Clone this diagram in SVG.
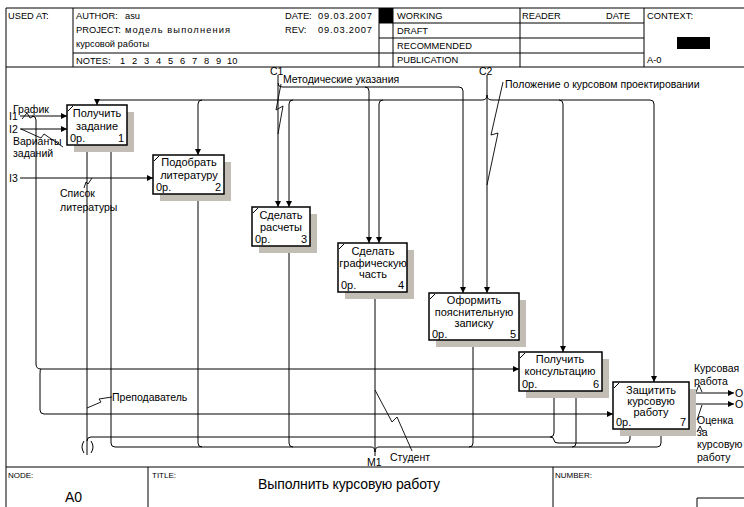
<svg xmlns="http://www.w3.org/2000/svg" width="744" height="507" viewBox="0 0 744 507">
  <defs>
    <marker id="arr" viewBox="0 0 10 10" refX="10" refY="5" markerWidth="7" markerHeight="6" markerUnits="userSpaceOnUse" orient="auto">
      <path d="M0,0 L10,5 L0,10 z" fill="#000"/>
    </marker>
  </defs>
  <style>
    text { font-family: "Liberation Sans", Arial, sans-serif; fill: #000; }
    .hd { font-size: 9.3px; }
    .sm { font-size: 8px; }
    .lbl { font-size: 10.5px; }
    .bx { font-size: 11px; text-anchor: middle; }
    .num { font-size: 11px; }
    .frame { fill: none; stroke: #000; stroke-width: 1; }
    .shadow { fill: #c2beb6; stroke: none; }
    .box { fill: #fff; stroke: #000; stroke-width: 1.5; }
    .tick { stroke: #000; stroke-width: 1; }
    .cn path { fill: none; stroke: #000; stroke-width: 1; }
    .ar { marker-end: url(#arr); }
    .lead { fill: none; stroke: #000; stroke-width: 0.9; }
  </style>

  <rect width="744" height="507" fill="#fff"/>

  <!-- page frame and header grid -->
  <g id="frame" class="frame">
    <path d="M6,8 H744 M6,8 V507 M6,67 H744"/>
    <path d="M73,8 V67 M379,8 V67 M393,8 V67 M520,8 V67 M644,8 V67"/>
    <path d="M73,53 H379 M379,23 H644 M379,38 H644 M379,53 H644"/>
    <path d="M6,467 H744 M148,467 V507 M553,467 V507 M697,507 V498 H744"/>
  </g>
  <rect x="379" y="8" width="14" height="15" fill="#000"/>
  <rect x="677" y="37" width="33" height="12" fill="#000"/>

  <g id="header">
    <text class="hd" x="8" y="19">USED AT:</text>
    <text class="hd" x="76" y="19">AUTHOR:</text>
    <text class="hd" x="125" y="19">asu</text>
    <text class="hd" x="76" y="33">PROJECT:</text>
    <text class="hd" x="125" y="33" textLength="105" lengthAdjust="spacing">модель выполнения</text>
    <text class="hd" x="76" y="47">курсовой работы</text>
    <text class="hd" x="76" y="64">NOTES:</text>
    <text class="hd" y="64"><tspan x="120">1</tspan><tspan x="132">2</tspan><tspan x="144">3</tspan><tspan x="156">4</tspan><tspan x="168">5</tspan><tspan x="180">6</tspan><tspan x="192">7</tspan><tspan x="204">8</tspan><tspan x="216">9</tspan><tspan x="227">10</tspan></text>
    <text class="hd" x="285" y="19">DATE:</text>
    <text class="hd" x="318" y="19" textLength="54" lengthAdjust="spacing">09.03.2007</text>
    <text class="hd" x="285" y="33">REV:</text>
    <text class="hd" x="318" y="33" textLength="54" lengthAdjust="spacing">09.03.2007</text>
    <text class="hd" x="397" y="19">WORKING</text>
    <text class="hd" x="397" y="34">DRAFT</text>
    <text class="hd" x="397" y="49">RECOMMENDED</text>
    <text class="hd" x="397" y="63">PUBLICATION</text>
    <text class="hd" x="522" y="19">READER</text>
    <text class="hd" x="606" y="19">DATE</text>
    <text class="hd" x="647" y="19">CONTEXT:</text>
    <text class="hd" x="647" y="63">A-0</text>
  </g>

  <g id="footer">
    <text class="sm" x="8" y="478">NODE:</text>
    <text x="65" y="502" font-size="14">A0</text>
    <text class="sm" x="152" y="478">TITLE:</text>
    <text x="258" y="489" font-size="14" textLength="182" lengthAdjust="spacing">Выполнить  курсовую работу</text>
    <text class="sm" x="555" y="478">NUMBER:</text>
  </g>

  <!-- connectors -->
  <g id="connectors" class="cn">
    <!-- inputs -->
    <path class="ar" d="M20,116 H67"/>
    <path class="ar" d="M20,129 H67"/>
    <path class="ar" d="M20,178 H153"/>
    <path class="ar" d="M32,116 Q36,116 36,120 V364 Q36,369 41,369 H519"/>
    <path class="ar" d="M41,369 Q40,369 40,374 V410 Q40,414 44,414 H613"/>

    <!-- control C2 -->
    <path class="ar" d="M487,75 V293"/>
    <path d="M487,95 Q487,100 482,100 H97"/>
    <path class="ar" d="M97,100 V105"/>
    <path class="ar" d="M202,100 Q198,100 198,104 V155"/>
    <path class="ar" d="M293,100 Q289,100 289,104 V207"/>
    <path class="ar" d="M383,100 Q379,100 379,104 V243"/>
    <path d="M487,95 Q487,100 492,100 H650"/>
    <path class="ar" d="M559,100 Q563,100 563,104 V352"/>
    <path class="ar" d="M650,100 Q654,100 654,104 V382"/>

    <!-- control C1 -->
    <path class="ar" d="M278,75 V207"/>
    <path class="ar" d="M278,83 Q278,87 282,87 H365 Q369,87 369,91 V243"/>
    <path class="ar" d="M365,87 H459 Q463,87 463,91 V293"/>

    <!-- mechanism: teacher -->
    <path class="ar" d="M87,455 V145"/>
    <path class="ar" d="M87,441 Q87,437 91,437 H550 Q554,437 554,433 V391"/>
    <path class="ar" d="M550,437 Q554,437 554,440 Q554,443 558,443 H626 Q630,443 630,439 V429"/>

    <!-- mechanism: student M1 -->
    <path class="ar" d="M375,456 V292"/>
    <path class="ar" d="M375,452 Q375,447 371,447 H115 Q111,447 111,443 V145"/>
    <path class="ar" d="M202,447 Q198,447 198,443 V194"/>
    <path class="ar" d="M293,447 Q289,447 289,443 V246"/>
    <path class="ar" d="M375,452 Q375,447 379,447 H469 Q473,447 473,443 V340"/>
    <path class="ar" d="M469,447 H657 Q661,447 661,443 V429"/>
    <path class="ar" d="M572,447 Q576,447 576,443 V391"/>

    <!-- outputs -->
    <path class="ar" d="M689,393 H734"/>
    <path class="ar" d="M689,404 H734"/>

    <!-- tunnel mark -->
    <path d="M84,441 Q80,447 84,453 M91,441 Q95,447 91,453"/>
  </g>

  <!-- label leaders -->
  <g id="leaders" class="lead">
    <path d="M22,119 L27,113 L30,118 L34,116"/>
    <path d="M21,129 L41,138 L44,134 L63,147"/>
    <path d="M92,178 L88,184 L86,182 L84,188"/>
    <path d="M281,84 L276,110 L283,106 L278,134"/>
    <path d="M503,82 L491,135 L498,133 L487,185"/>
    <path d="M87,408 L101,402 L99,399 L112,397"/>
    <path d="M375,390 L392,422 L397,417 L412,451"/>
    <path d="M696,392 L699,385 L702,392"/>
    <path d="M702,405 L697,420 M697,432 L700,426 L703,432"/>
  </g>

  <g id="labels">
    <text class="lbl" x="13" y="113">График</text>
    <text class="lbl" x="9" y="120">I1</text>
    <text class="lbl" x="9" y="133">I2</text>
    <text class="lbl" x="13" y="145">Варианты</text>
    <text class="lbl" x="13" y="157">заданий</text>
    <text class="lbl" x="9" y="182">I3</text>
    <text class="lbl" x="60" y="197">Список</text>
    <text class="lbl" x="60" y="211">литературы</text>
    <text class="lbl" x="270" y="75">C1</text>
    <text class="lbl" x="283" y="83">Методические указания</text>
    <text class="lbl" x="479" y="75">C2</text>
    <text class="lbl" x="505" y="88">Положение о курсовом проектировании</text>
    <text class="lbl" x="112" y="401">Преподаватель</text>
    <text class="lbl" x="367" y="466">M1</text>
    <text class="lbl" x="390" y="461">Студент</text>
    <text class="lbl" x="694" y="372">Курсовая</text>
    <text class="lbl" x="694" y="385">работа</text>
    <text class="lbl" x="735" y="397">O</text>
    <text class="lbl" x="735" y="408">O</text>
    <text class="lbl" x="697" y="424">Оценка</text>
    <text class="lbl" x="697" y="436">за</text>
    <text class="lbl" x="697" y="448">курсовую</text>
    <text class="lbl" x="697" y="461">работу</text>
  </g>

  <!-- activity boxes -->
  <g id="box1">
    <rect class="shadow" x="74" y="112" width="60" height="40"/>
    <rect class="box" x="67" y="105" width="60" height="40"/>
    <line class="tick" x1="68" y1="111" x2="73" y2="106"/>
    <text class="bx" x="97" y="117">Получить</text>
    <text class="bx" x="97" y="130">задание</text>
    <text class="num" x="70" y="142">0р.</text>
    <text class="num" x="124" y="142" text-anchor="end">1</text>
  </g>
  <g id="box2">
    <rect class="shadow" x="160" y="162" width="71" height="39"/>
    <rect class="box" x="153" y="155" width="71" height="39"/>
    <line class="tick" x1="154" y1="161" x2="159" y2="156"/>
    <text class="bx" x="189" y="166">Подобрать</text>
    <text class="bx" x="189" y="179">литературу</text>
    <text class="num" x="156" y="191">0р.</text>
    <text class="num" x="221" y="191" text-anchor="end">2</text>
  </g>
  <g id="box3">
    <rect class="shadow" x="259" y="214" width="58" height="39"/>
    <rect class="box" x="252" y="207" width="58" height="39"/>
    <line class="tick" x1="253" y1="213" x2="258" y2="208"/>
    <text class="bx" x="281" y="219">Сделать</text>
    <text class="bx" x="281" y="231">расчеты</text>
    <text class="num" x="255" y="243">0р.</text>
    <text class="num" x="307" y="243" text-anchor="end">3</text>
  </g>
  <g id="box4">
    <rect class="shadow" x="345" y="250" width="69" height="49"/>
    <rect class="box" x="338" y="243" width="69" height="49"/>
    <line class="tick" x1="339" y1="249" x2="344" y2="244"/>
    <text class="bx" x="373" y="255">Сделать</text>
    <text class="bx" x="373" y="267">графическую</text>
    <text class="bx" x="373" y="278">часть</text>
    <text class="num" x="341" y="289">0р.</text>
    <text class="num" x="404" y="289" text-anchor="end">4</text>
  </g>
  <g id="box5">
    <rect class="shadow" x="436" y="300" width="90" height="47"/>
    <rect class="box" x="429" y="293" width="90" height="47"/>
    <line class="tick" x1="430" y1="299" x2="435" y2="294"/>
    <text class="bx" x="474" y="304">Оформить</text>
    <text class="bx" x="474" y="316">пояснительную</text>
    <text class="bx" x="474" y="327">записку</text>
    <text class="num" x="432" y="338">0р.</text>
    <text class="num" x="516" y="338" text-anchor="end">5</text>
  </g>
  <g id="box6">
    <rect class="shadow" x="526" y="359" width="83" height="39"/>
    <rect class="box" x="519" y="352" width="83" height="39"/>
    <line class="tick" x1="520" y1="358" x2="525" y2="353"/>
    <text class="bx" x="560" y="363">Получить</text>
    <text class="bx" x="560" y="375">консультацию</text>
    <text class="num" x="522" y="388">0р.</text>
    <text class="num" x="599" y="388" text-anchor="end">6</text>
  </g>
  <g id="box7">
    <rect class="shadow" x="620" y="389" width="76" height="47"/>
    <rect class="box" x="613" y="382" width="76" height="47"/>
    <line class="tick" x1="614" y1="388" x2="619" y2="383"/>
    <text class="bx" x="651" y="394">Защитить</text>
    <text class="bx" x="651" y="405">курсовую</text>
    <text class="bx" x="651" y="416">работу</text>
    <text class="num" x="616" y="426">0р.</text>
    <text class="num" x="686" y="426" text-anchor="end">7</text>
  </g>
</svg>
